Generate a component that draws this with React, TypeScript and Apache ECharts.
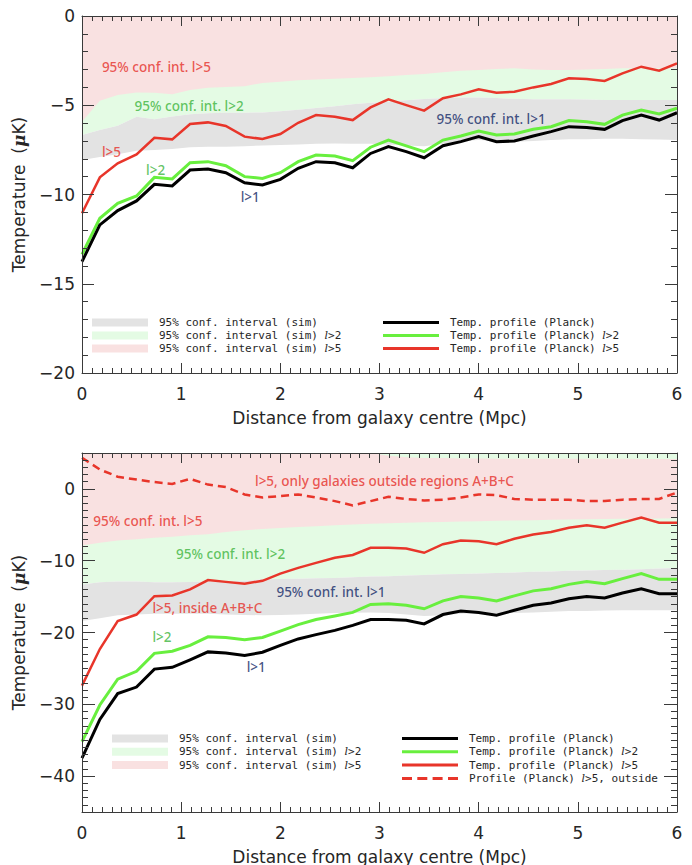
import React, { useEffect, useRef } from 'react';
import * as echarts from 'echarts';

// ---------- data ----------
const DIST = [0, 0.18, 0.36, 0.55, 0.73, 0.91, 1.09, 1.27, 1.45, 1.64, 1.82, 2.0, 2.18, 2.36, 2.55, 2.73, 2.91,
  3.09, 3.27, 3.45, 3.64, 3.82, 4.0, 4.18, 4.36, 4.55, 4.73, 4.91, 5.09, 5.27, 5.45, 5.64, 5.82, 6.0];

// top panel
const TOP_BLACK = [-13.76, -11.7, -10.9, -10.36, -9.43, -9.52, -8.63, -8.57, -8.78, -9.34, -9.47, -9.15, -8.53, -8.16, -8.22, -8.5, -7.7,
  -7.32, -7.6, -7.94, -7.27, -7.04, -6.76, -7.04, -7.0, -6.72, -6.48, -6.2, -6.24, -6.35, -5.86, -5.55, -5.83, -5.42];
const TOP_GREEN = [-13.35, -11.33, -10.5, -10.08, -9.04, -9.13, -8.22, -8.16, -8.39, -9.0, -9.1, -8.78, -8.16, -7.79, -7.84, -8.1, -7.35,
  -6.95, -7.28, -7.6, -6.95, -6.72, -6.44, -6.67, -6.61, -6.35, -6.2, -5.86, -5.92, -6.07, -5.55, -5.27, -5.49, -5.17];
const TOP_RED = [-11.05, -9.04, -8.25, -7.75, -6.82, -6.91, -6.05, -5.96, -6.16, -6.76, -6.89, -6.61, -5.98, -5.55, -5.64, -5.83, -5.12,
  -4.67, -4.99, -5.3, -4.61, -4.39, -4.11, -4.3, -4.24, -4.0, -3.81, -3.49, -3.53, -3.64, -3.21, -2.84, -3.06, -2.65];
const TOP_GRAY_LO = [-8.07, -7.9, -7.75, -7.55, -7.5, -7.45, -7.35, -7.32, -7.32, -7.3, -7.25, -7.22, -7.2, -7.16, -7.14, -7.15, -7.16,
  -7.2, -7.26, -7.3, -7.15, -7.0, -6.95, -7.0, -7.04, -7.0, -6.95, -6.9, -6.9, -6.88, -6.88, -6.9, -6.92, -6.95];
const TOP_GRAY_HI = [-6.67, -6.39, -6.15, -5.65, -5.78, -5.63, -5.5, -5.45, -5.42, -5.42, -5.4, -5.33, -5.25, -5.15, -5.06, -4.95, -4.86,
  -4.8, -4.72, -4.65, -4.6, -4.57, -4.57, -4.6, -4.64, -4.66, -4.67, -4.67, -4.68, -4.7, -4.7, -4.7, -4.7, -4.7];
const TOP_GREEN_HI = [-5.92, -4.75, -4.43, -4.28, -4.3, -4.38, -4.15, -4.02, -3.98, -3.93, -3.75, -3.68, -3.6, -3.56, -3.52, -3.47, -3.43,
  -3.38, -3.3, -3.25, -3.15, -3.07, -3.02, -2.97, -2.93, -3.0, -3.03, -3.03, -3.0, -2.97, -2.93, -2.93, -2.93, -2.93];

// bottom panel
const BOT_BLACK = [-37.5, -32.1, -28.5, -27.6, -25.1, -24.85, -23.8, -22.7, -22.85, -23.2, -22.75, -21.8, -20.9, -20.3, -19.7, -19.0, -18.2,
  -18.2, -18.3, -18.8, -17.5, -17.0, -17.2, -17.6, -16.9, -16.2, -15.9, -15.3, -15.0, -15.2, -14.5, -13.9, -14.6, -14.6];
const BOT_GREEN = [-35.2, -30.1, -26.5, -25.4, -22.9, -22.6, -21.8, -20.6, -20.7, -21.0, -20.7, -19.8, -18.9, -18.2, -17.7, -17.2, -16.1,
  -16.0, -16.2, -16.7, -15.6, -15.0, -15.2, -15.6, -14.9, -14.2, -13.9, -13.3, -12.9, -13.2, -12.5, -11.8, -12.6, -12.6];
const BOT_RED = [-27.4, -22.3, -18.4, -17.5, -14.95, -14.85, -14.0, -12.7, -12.95, -13.2, -12.8, -11.8, -11.0, -10.3, -9.6, -9.2, -8.2,
  -8.2, -8.3, -8.9, -7.7, -7.2, -7.3, -7.7, -6.95, -6.35, -6.0, -5.4, -5.05, -5.4, -4.7, -4.0, -4.7, -4.7];
const BOT_OUTSIDE = [4.35, 2.7, 1.7, 1.3, 0.95, 0.7, 1.4, 0.6, 0.25, -0.77, -1.2, -1.0, -0.77, -1.2, -1.7, -2.3, -1.7,
  -1.1, -1.4, -1.6, -1.5, -1.2, -0.77, -0.86, -1.4, -1.5, -1.5, -1.5, -1.7, -1.7, -1.5, -1.4, -1.4, -0.5];
const BOT_GRAY_LO = [-18.4, -18.0, -17.6, -17.5, -17.4, -17.4, -17.4, -17.4, -17.5, -17.55, -17.6, -17.55, -17.5, -17.4, -17.3, -17.25, -17.2,
  -17.3, -17.5, -17.7, -17.6, -17.4, -17.3, -17.3, -17.3, -17.2, -17.1, -17.0, -17.0, -16.95, -16.9, -16.9, -16.9, -16.9];
const BOT_GRAY_HI = [-13.3, -13.0, -12.9, -12.9, -13.0, -13.0, -12.95, -12.9, -12.9, -12.8, -12.6, -12.55, -12.5, -12.45, -12.4, -12.3, -12.2,
  -12.15, -12.05, -12.0, -11.9, -11.85, -11.8, -11.7, -11.65, -11.55, -11.5, -11.4, -11.35, -11.3, -11.25, -11.2, -11.1, -11.0];
const BOT_GREEN_HI = [-7.9, -7.5, -7.2, -7.0, -6.8, -6.65, -6.45, -6.3, -6.0, -5.75, -5.6, -5.45, -5.3, -5.2, -5.05, -4.95, -4.85,
  -4.78, -4.7, -4.65, -4.6, -4.55, -4.5, -4.45, -4.4, -4.35, -4.3, -4.27, -4.22, -4.2, -4.17, -4.15, -4.12, -4.1];
const BOT_PINK_HI = [5, 5, 5, 5, 5, 5, 5, 5, 5, 5, 5, 5, 5, 5, 5, 5, 5,
  4.6, 4.4, 4.3, 4.3, 4.25, 4.25, 4.2, 4.2, 4.2, 4.2, 4.2, 4.2, 4.2, 4.2, 4.15, 4.15, 4.15];

const X_TICKS = [0, 6, 1];
const TOP_Y = [-20, 0, 5];
const BOT_Y = [-45, 5];

const BAND_NAMES = ['95% conf. interval (sim)', '95% conf. interval (sim) l>2', '95% conf. interval (sim) l>5'];
const LINE_NAMES = ['Temp. profile (Planck)', 'Temp. profile (Planck) l>2', 'Temp. profile (Planck) l>5', 'Profile (Planck) l>5, outside'];

const TOP_NOTES = [
  { text: '95% conf. int. l>5', kind: 'red', x: 0.2, y: -2.84 },
  { text: '95% conf. int. l>2', kind: 'green', x: 0.53, y: -5.04 },
  { text: 'l>5', kind: 'red', x: 0.2, y: -7.6 },
  { text: 'l>2', kind: 'green', x: 0.645, y: -8.63 },
  { text: 'l>1', kind: 'navy', x: 1.6, y: -10.16 },
  { text: '95% conf. int. l>1', kind: 'navy', x: 3.575, y: -5.79 },
];
const BOT_NOTES = [
  { text: 'l>5, only galaxies outside regions A+B+C', kind: 'red', x: 1.744, y: 1.09 },
  { text: '95% conf. int. l>5', kind: 'red', x: 0.114, y: -4.49 },
  { text: '95% conf. int. l>2', kind: 'green', x: 0.948, y: -9.13 },
  { text: '95% conf. int. l>1', kind: 'navy', x: 1.96, y: -14.39 },
  { text: 'l>5, inside A+B+C', kind: 'red', x: 0.71, y: -16.57 },
  { text: 'l>2', kind: 'green', x: 0.71, y: -20.6 },
  { text: 'l>1', kind: 'navy', x: 1.66, y: -24.85 },
];

// ---------- styles ----------
const C_GRAY = '#e3e3e3';
const C_GREENBAND = '#e4fbe4';
const C_PINK = '#f9e1e1';
const C_BLACK = '#000000';
const C_GREEN = '#68ef3e';
const C_RED = '#e8352a';
const NOTE_COLORS: Record<string, string> = { red: '#e5302a', green: '#3cb43c', navy: '#132a68' };
const AX = '#3a3a3a';
const TXT = '#262626';
const AXFONT = "'DejaVu Sans', sans-serif";
const LEGFONT = "'DejaVu Sans Mono', monospace";

const minus = (v: number) => (v < 0 ? '\u2212' + Math.abs(v) : String(v));

function band(xi: number, yi: number, lo: number[], hi: number[], color: string, name: string) {
  return {
    type: 'custom', name, xAxisIndex: xi, yAxisIndex: yi, coordinateSystem: 'cartesian2d',
    silent: true, z: 1, itemStyle: { color },
    data: [[DIST[0], lo[0]]], encode: { x: 0, y: 1 },
    renderItem: (params: any, api: any) => {
      if (params.dataIndex !== 0) return null;
      const up = DIST.map((x, i) => api.coord([x, hi[i]]));
      const dn = DIST.map((x, i) => api.coord([x, lo[i]])).reverse();
      return { type: 'polygon', shape: { points: up.concat(dn) }, style: { fill: color } };
    },
  };
}

function line(xi: number, yi: number, ys: number[], color: string, width: number, name: string, dashed = false) {
  return {
    type: 'line', name, xAxisIndex: xi, yAxisIndex: yi, z: 3, silent: true,
    symbol: 'none', showSymbol: false, itemStyle: { color },
    lineStyle: { color, width, type: dashed ? [8, 5] : 'solid', cap: 'butt', join: 'miter' },
    data: DIST.map((x, i) => [x, ys[i]]),
  };
}

function notes(xi: number, yi: number, list: typeof TOP_NOTES) {
  return {
    type: 'scatter', xAxisIndex: xi, yAxisIndex: yi, z: 6, silent: true,
    symbolSize: 0.1, itemStyle: { color: 'transparent' },
    label: {
      show: true, position: 'right', distance: 0, formatter: '{b}',
      fontFamily: "'Noto Sans', 'Open Sans', sans-serif", fontSize: 13.5, fontWeight: 500,
    },
    data: list.map((n) => ({ name: n.text, value: [n.x, n.y], label: { color: NOTE_COLORS[n.kind] } })),
  };
}

function xAxisPair(grid: number) {
  const base = {
    gridIndex: grid, type: 'value', min: X_TICKS[0], max: X_TICKS[1], interval: X_TICKS[2], z: 5,
    axisLine: { show: true, onZero: false, lineStyle: { color: AX, width: 1 } },
    axisTick: { show: true, inside: true, length: 10, lineStyle: { color: AX } },
    minorTick: { show: true, splitNumber: 10, length: 5, lineStyle: { color: AX } },
    splitLine: { show: false }, minorSplitLine: { show: false },
  };
  return [
    {
      ...base, position: 'bottom',
      axisLabel: { show: true, margin: 12, color: TXT, fontFamily: AXFONT, fontSize: 17 },
      name: 'Distance from galaxy centre (Mpc)', nameLocation: 'middle', nameGap: 36,
      nameTextStyle: { color: TXT, fontFamily: AXFONT, fontSize: 17 },
    },
    { ...base, position: 'top', axisLabel: { show: false } },
  ];
}

const yName = {
  name: 'Temperature\u00a0\u00a0({mu|\u03bc}K)', nameLocation: 'middle', nameGap: 55, nameRotate: 90,
  nameTextStyle: {
    color: TXT, fontFamily: AXFONT, fontSize: 17,
    rich: { mu: { fontFamily: "'DejaVu Serif', serif", fontStyle: 'italic', fontWeight: 'bold', fontSize: 17, color: TXT } },
  },
};

function buildOption() {
  const yLine = { show: true, onZero: false, lineStyle: { color: AX, width: 1 } };
  const noLine = { show: false, onZero: false };
  const yAxes = [
    {
      gridIndex: 0, type: 'value', position: 'left', min: TOP_Y[0], max: TOP_Y[1], interval: TOP_Y[2], z: 5,
      axisLine: yLine, axisTick: { show: true, inside: true, length: 12, lineStyle: { color: AX } },
      minorTick: { show: true, splitNumber: 5, length: 6, lineStyle: { color: AX } },
      splitLine: { show: false },
      axisLabel: { show: true, margin: 7, color: TXT, fontFamily: AXFONT, fontSize: 17, formatter: minus },
      ...yName,
    },
    {
      gridIndex: 0, type: 'value', position: 'right', min: TOP_Y[0], max: TOP_Y[1], interval: TOP_Y[2], z: 5,
      axisLine: yLine, axisTick: { show: true, inside: true, length: 12, lineStyle: { color: AX } },
      minorTick: { show: true, splitNumber: 5, length: 6, lineStyle: { color: AX } },
      splitLine: { show: false }, axisLabel: { show: false },
    },
    {
      gridIndex: 1, type: 'value', position: 'left', min: BOT_Y[0], max: BOT_Y[1], splitNumber: 5, z: 5,
      axisLine: yLine, axisTick: { show: true, inside: true, length: 13, lineStyle: { color: AX } },
      minorTick: { show: false }, splitLine: { show: false },
      axisLabel: {
        show: true, margin: 7, color: TXT, fontFamily: AXFONT, fontSize: 17,
        formatter: (v: number) => (Math.round(v) % 10 === 0 ? minus(v) : ''),
      },
      ...yName,
    },
    {
      gridIndex: 1, type: 'value', position: 'right', min: BOT_Y[0], max: BOT_Y[1], splitNumber: 5, z: 5,
      axisLine: yLine, axisTick: { show: true, inside: true, length: 13, lineStyle: { color: AX } },
      minorTick: { show: false }, splitLine: { show: false }, axisLabel: { show: false },
    },
    {
      gridIndex: 1, type: 'value', position: 'left', min: BOT_Y[0], max: BOT_Y[1], interval: 1, z: 5,
      axisLine: noLine, axisTick: { show: true, inside: true, length: 6, lineStyle: { color: AX } },
      splitLine: { show: false }, axisLabel: { show: false },
    },
    {
      gridIndex: 1, type: 'value', position: 'right', min: BOT_Y[0], max: BOT_Y[1], interval: 1, z: 5,
      axisLine: noLine, axisTick: { show: true, inside: true, length: 6, lineStyle: { color: AX } },
      splitLine: { show: false }, axisLabel: { show: false },
    },
  ];

  const legendText = {
    color: TXT, fontFamily: LEGFONT, fontSize: 11, lineHeight: 13, padding: [0, 0, 0, 6],
    rich: { i: { fontFamily: "'DejaVu Serif', serif", fontStyle: 'italic', fontSize: 11, lineHeight: 13, color: TXT } },
  };
  const fmtLegend = (n: string) => n.replace(' l>', ' {i|l}>');
  const legendBase = {
    orient: 'vertical', align: 'left', itemWidth: 56, padding: 0, selectedMode: false,
    textStyle: legendText, formatter: fmtLegend, itemStyle: { borderWidth: 0 }, lineStyle: { width: 0 },
  };
  const bandLegend = [
    { name: BAND_NAMES[0], icon: 'rect', itemStyle: { color: C_GRAY, borderWidth: 0 } },
    { name: BAND_NAMES[1], icon: 'rect', itemStyle: { color: C_GREENBAND, borderWidth: 0 } },
    { name: BAND_NAMES[2], icon: 'rect', itemStyle: { color: C_PINK, borderWidth: 0 } },
  ];
  const lineLegend = [
    { name: LINE_NAMES[0], icon: 'rect', itemStyle: { color: C_BLACK, borderWidth: 0 } },
    { name: LINE_NAMES[1], icon: 'rect', itemStyle: { color: C_GREEN, borderWidth: 0 } },
    { name: LINE_NAMES[2], icon: 'rect', itemStyle: { color: C_RED, borderWidth: 0 } },
  ];
  const dashIcon = 'path://M0,0h10v3h-10z M15.3,0h10v3h-10z M30.6,0h10v3h-10z M46,0h10v3h-10z';

  const TOP_MAXARR = DIST.map(() => TOP_Y[1]);
  const BOT_MAXARR = DIST.map(() => BOT_Y[1]);

  return {
    animation: false,
    backgroundColor: '#ffffff',
    grid: [
      { left: 82, top: 16, width: 595, height: 357, containLabel: false, outerBoundsMode: 'none' },
      { left: 82, top: 453, width: 595, height: 359, containLabel: false, outerBoundsMode: 'none' },
    ],
    xAxis: [...xAxisPair(0), ...xAxisPair(1)],
    yAxis: yAxes,
    legend: [
      { ...legendBase, left: 92, top: 316, itemHeight: 8, itemGap: 0, data: bandLegend },
      { ...legendBase, left: 383, top: 316, itemHeight: 3, itemGap: 0, data: lineLegend },
      { ...legendBase, left: 112, top: 732, itemHeight: 8, itemGap: 0.3, data: bandLegend },
      {
        ...legendBase, left: 402, top: 732, itemHeight: 3, itemGap: 0.3,
        data: [...lineLegend, { name: LINE_NAMES[3], icon: dashIcon, itemStyle: { color: C_RED, borderWidth: 0 } }],
      },
    ],
    series: [
      // top panel
      band(0, 0, TOP_GRAY_HI, TOP_MAXARR, C_GREENBAND, BAND_NAMES[1]),
      band(0, 0, TOP_GREEN_HI, TOP_MAXARR, C_PINK, BAND_NAMES[2]),
      band(0, 0, TOP_GRAY_LO, TOP_GRAY_HI, C_GRAY, BAND_NAMES[0]),
      line(0, 0, TOP_RED, C_RED, 2.5, LINE_NAMES[2]),
      line(0, 0, TOP_GREEN, C_GREEN, 3, LINE_NAMES[1]),
      line(0, 0, TOP_BLACK, C_BLACK, 3, LINE_NAMES[0]),
      notes(0, 0, TOP_NOTES),
      // bottom panel
      band(2, 2, BOT_GRAY_HI, BOT_MAXARR, C_GREENBAND, BAND_NAMES[1]),
      band(2, 2, BOT_GREEN_HI, BOT_PINK_HI, C_PINK, BAND_NAMES[2]),
      band(2, 2, BOT_GRAY_LO, BOT_GRAY_HI, C_GRAY, BAND_NAMES[0]),
      line(2, 2, BOT_OUTSIDE, C_RED, 2.5, LINE_NAMES[3], true),
      line(2, 2, BOT_RED, C_RED, 2.5, LINE_NAMES[2]),
      line(2, 2, BOT_GREEN, C_GREEN, 3, LINE_NAMES[1]),
      line(2, 2, BOT_BLACK, C_BLACK, 3, LINE_NAMES[0]),
      notes(2, 2, BOT_NOTES),
    ],
  };
}

export default function App() {
  const ref = useRef<HTMLDivElement>(null);
  useEffect(() => {
    if (!ref.current) return;
    const chart = echarts.init(ref.current, null, { renderer: 'svg' });
    chart.setOption(buildOption() as any);
    return () => chart.dispose();
  }, []);
  return (
    <div
      ref={ref}
      style={{ position: 'fixed', left: 0, top: 0, width: 692, height: 865, background: '#ffffff' }}
    />
  );
}
